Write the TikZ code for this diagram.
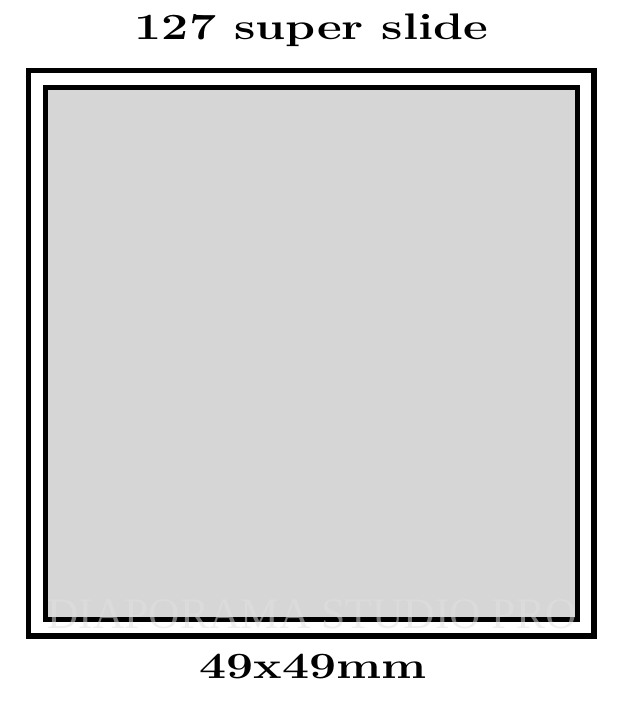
\documentclass[tikz,border=0pt]{standalone}
\usepackage{fontspec}
\usepackage{graphicx}
\newfontfamily\wmfont{Liberation Serif}
\definecolor{slidegray}{HTML}{D6D6D6}
\definecolor{wmgray}{HTML}{E0E0E0}
\newcommand\wide[1]{\scalebox{1.3}[1]{#1}}
\tikzset{
  frame/.style={draw=black, line width=5.5pt},
  window/.style={draw=black, line width=5pt, fill=slidegray},
  label/.style={anchor=base, inner sep=0pt, font=\fontsize{37}{40}\selectfont\bfseries},
  watermark/.style={anchor=base, inner sep=0pt, text=wmgray, text opacity=0.5, font=\wmfont\fontsize{43.5}{45}\selectfont}
}
\begin{document}
\begin{tikzpicture}[x=1pt,y=1pt]
\useasboundingbox (0,0) rectangle (624,709);
\draw[frame] (28.5,73) rectangle (594,638.5);
\draw[window] (45.5,89.5) rectangle (577.5,621.5);
\node[watermark] (wm) at (312,80) {DIAPORAMA STUDIO PRO};
\node[label] (title) at (311.5,669) {\wide{127 super slide}};
\node[label] (size) at (313,30) {\wide{49x49mm}};
\end{tikzpicture}
\end{document}
